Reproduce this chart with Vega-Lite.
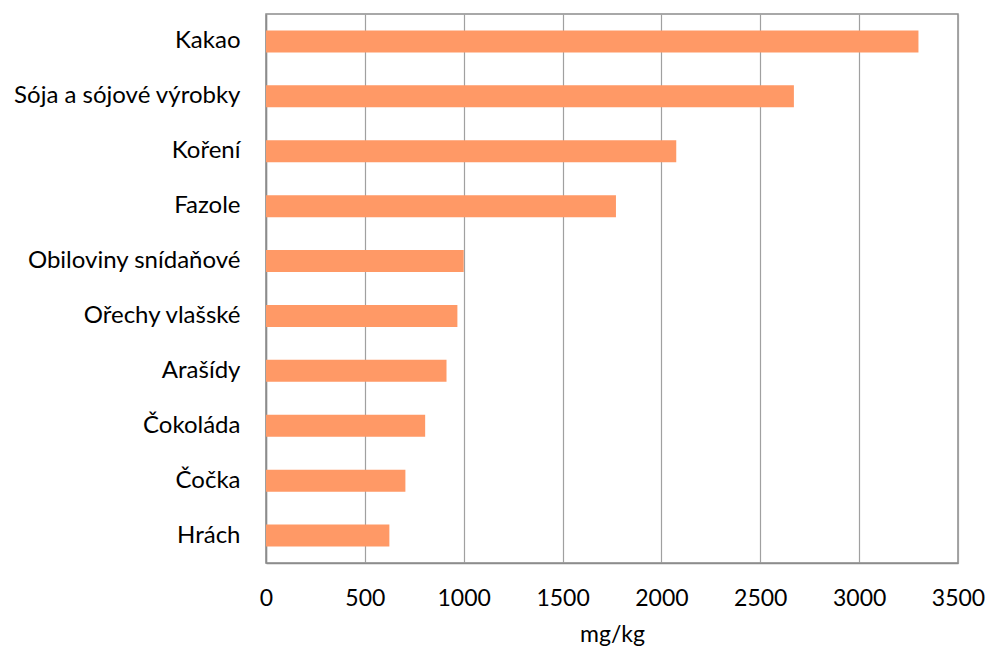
{
  "$schema": "https://vega.github.io/schema/vega-lite/v6.json",
  "autosize": {"type": "none"},
  "padding": {"left": 266, "top": 14, "right": 32, "bottom": 89},
  "width": 692,
  "height": 549,
  "background": "white",
  "config": {
    "font": "Lato",
    "view": {"stroke": "#8c8c8c", "strokeWidth": 1.5},
    "axis": {"labelFont": "Lato", "titleFont": "Lato", "labelColor": "#000", "titleColor": "#000"}
  },
  "data": {
    "values": [
      {"food": "Kakao", "value": 3300},
      {"food": "Sója a sójové výrobky", "value": 2670},
      {"food": "Koření", "value": 2075},
      {"food": "Fazole", "value": 1770},
      {"food": "Obiloviny snídaňové", "value": 1000},
      {"food": "Ořechy vlašské", "value": 968},
      {"food": "Arašídy", "value": 913},
      {"food": "Čokoláda", "value": 805},
      {"food": "Čočka", "value": 705},
      {"food": "Hrách", "value": 624}
    ]
  },
  "mark": {"type": "bar", "color": "#FF9966"},
  "encoding": {
    "y": {
      "field": "food",
      "type": "nominal",
      "sort": null,
      "scale": {"paddingInner": 0.6, "paddingOuter": 0.3},
      "axis": {
        "title": null,
        "ticks": false,
        "labelFontSize": 24,
        "labelLimit": 0,
        "labelPadding": 26,
        "domainColor": "#8c8c8c",
        "domainWidth": 1.5,
        "grid": false
      }
    },
    "x": {
      "field": "value",
      "type": "quantitative",
      "scale": {"domain": [0, 3500], "nice": false},
      "axis": {
        "title": "mg/kg",
        "format": "d",
        "values": [0, 500, 1000, 1500, 2000, 2500, 3000, 3500],
        "labelFontSize": 23,
        "titleFontSize": 23,
        "titleFontWeight": "normal",
        "labelPadding": 24,
        "titlePadding": 13,
        "ticks": false,
        "grid": true,
        "gridColor": "#a0a0a0",
        "gridWidth": 1.2,
        "gridOpacity": 1,
        "domainColor": "#8c8c8c",
        "domainWidth": 1.5,
        "labelFlush": false
      }
    }
  }
}
